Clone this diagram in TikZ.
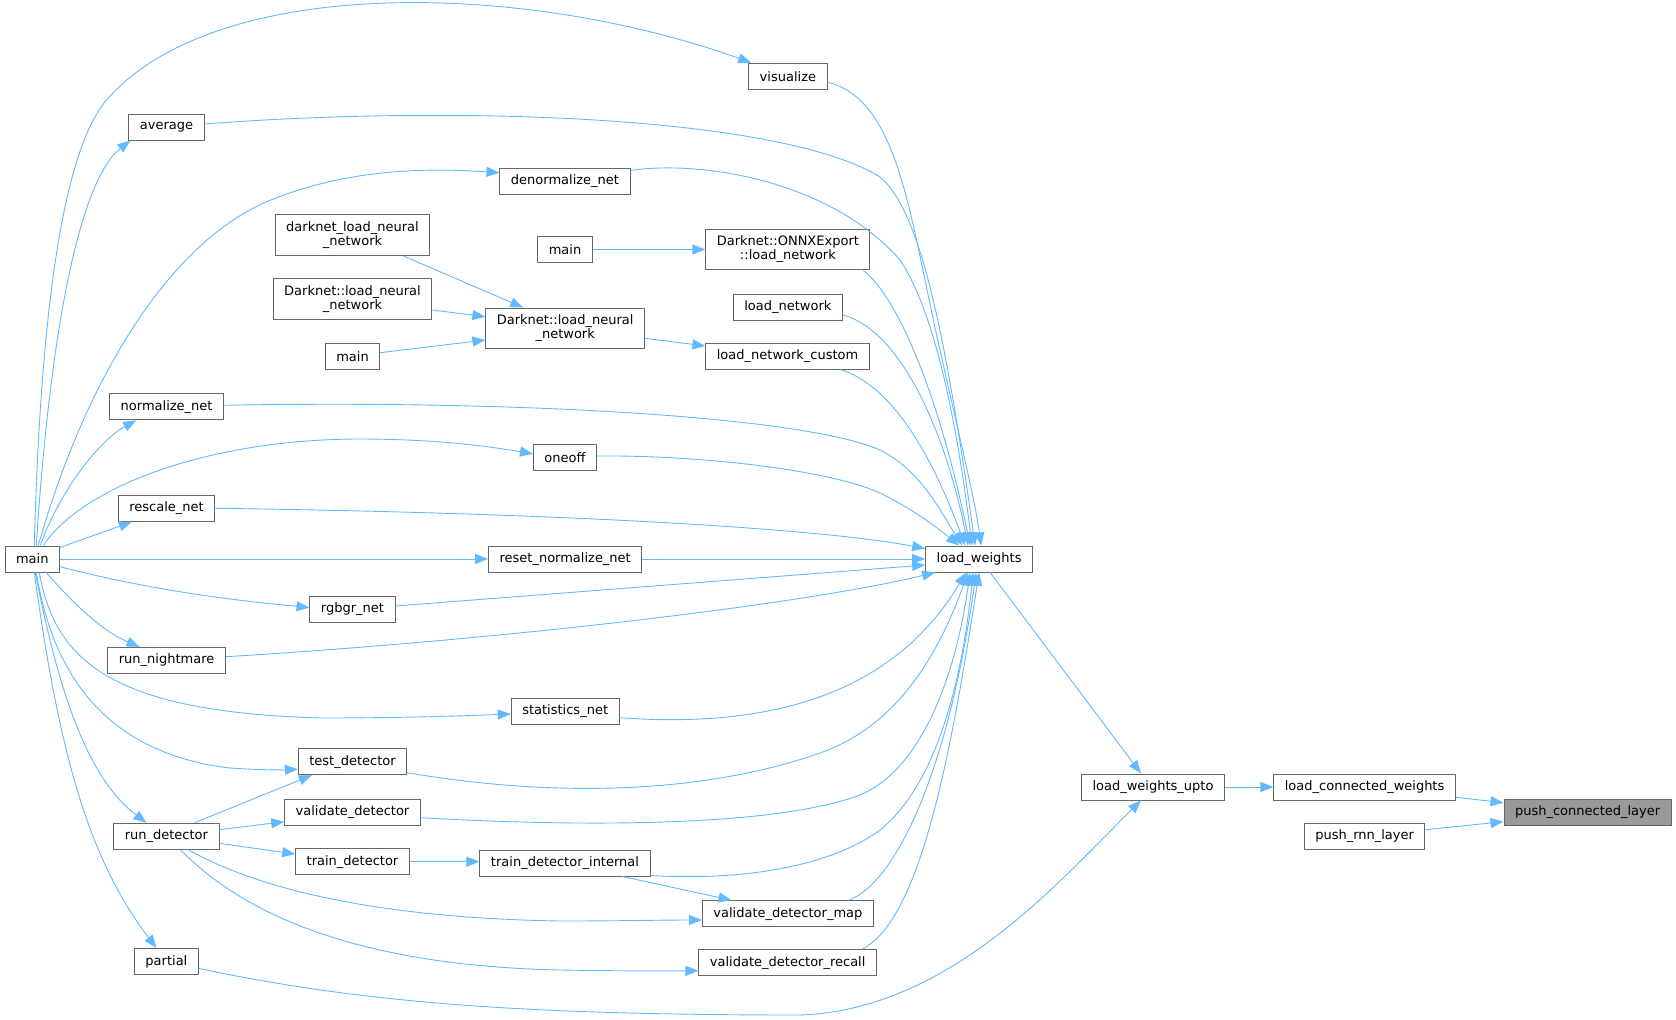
\documentclass[tikz,border=0pt]{standalone}
\usepackage{fontspec}
\setmainfont{DejaVu Sans}
\usepackage{tikz}
\usetikzlibrary{arrows.meta}
\definecolor{edgeblue}{HTML}{63B8FF}
\definecolor{boxgray}{HTML}{666666}
\definecolor{hlgray}{HTML}{999999}

\begin{document}
\begin{tikzpicture}[x=1pt,y=-1pt,
	fn/.style={draw=boxgray,line width=1pt,fill=white,inner xsep=11pt,inner ysep=0pt,minimum height=26pt,font=\fontsize{13}{14}\selectfont},
	fn2/.style={fn,align=center,minimum height=40.5pt},
	edge/.style={draw=edgeblue,line width=0.9pt,-{Triangle[length=13pt,width=10pt]}}]
	\useasboundingbox (0,0) rectangle (1676,1020);
	% callers, left to right
	\node[fn] (visualize) at (787.9,76.2) {visualize};
	\node[fn] (average) at (166.5,127) {average};
	\node[fn] (denorm) at (565,181.5) {denormalize\_net};
	\node[fn2] (dlnn) at (352.5,235.2) {darknet\_load\_neural\\\_network};
	\node[fn] (mainonnx) at (565,249.5) {main};
	\node[fn2] (onnx) at (787.9,249.5) {Darknet::ONNXExport\\::load\_network};
	\node[fn2] (dleft) at (352.5,299) {Darknet::load\_neural\\\_network};
	\node[fn] (loadnet) at (787.9,307) {load\_network};
	\node[fn2] (dlnmid) at (565.2,328.3) {Darknet::load\_neural\\\_network};
	\node[fn] (mainnet) at (352.5,356.2) {main};
	\node[fn] (lnc) at (787.6,356.2) {load\_network\_custom};
	\node[fn] (normalize) at (166.6,406.8) {normalize\_net};
	\node[fn] (oneoff) at (565,457.7) {oneoff};
	\node[fn] (rescale) at (166.6,508.3) {rescale\_net};
	\node[fn] (main) at (32.3,559) {main};
	\node[fn] (reset) at (565.2,559) {reset\_normalize\_net};
	\node[fn] (lw) at (979.1,559) {load\_weights};
	\node[fn] (rgbgr) at (352.5,609.5) {rgbgr\_net};
	\node[fn] (nightmare) at (166.6,660.3) {run\_nightmare};
	\node[fn] (statistics) at (565.2,711) {statistics\_net};
	\node[fn] (testdet) at (352.5,761.7) {test\_detector};
	\node[fn] (upto) at (1153,787) {load\_weights\_upto};
	\node[fn] (lcw) at (1364.6,787) {load\_connected\_weights};
	\node[fn] (vdet) at (352.5,812.2) {validate\_detector};
	\node[fn,fill=hlgray] (pcl) at (1587.6,812.3) {push\_connected\_layer};
	\node[fn] (rundet) at (166.4,836.3) {run\_detector};
	\node[fn] (prnn) at (1364.6,836.5) {push\_rnn\_layer};
	\node[fn] (traindet) at (352.5,861.7) {train\_detector};
	\node[fn] (tdi) at (565,863) {train\_detector\_internal};
	\node[fn] (vdmap) at (787.9,913.7) {validate\_detector\_map};
	\node[fn] (partial) at (166.4,961.5) {partial};
	\node[fn] (vdrecall) at (787.7,962.8) {validate\_detector\_recall};
	% right part
	\draw[edge] ([yshift=-10.3pt]lcw.east) -- ([yshift=9.6pt]pcl.west);
	\draw[edge] ([yshift=6.8pt]prnn.east) -- ([yshift=-9.4pt]pcl.west);
	\draw[edge] (upto.east) -- (lcw.west);
	\draw[edge] ([xshift=11pt]lw.south) -- ([xshift=-12pt]upto.north);
	\draw[edge] ([yshift=-7pt]partial.east) .. controls (350,1000) and (500,1015) .. (800,1015) .. controls (950,1010) and (1060,880) .. ([xshift=-12pt]upto.south);
	% into load_weights from above
	\draw[edge] ([yshift=-6pt]visualize.east) .. controls (900,100) and (910,220) .. (940,350) .. controls (960,440) and (975,500) .. ([xshift=2pt]lw.north);
	\draw[edge] ([yshift=3pt]average.east) .. controls (450,105) and (780,115) .. (880,177) .. controls (920,210) and (945,330) .. ([xshift=-4pt]lw.north);
	\draw[edge] ([yshift=11pt]denorm.east) .. controls (700,160) and (830,180) .. (900,260) .. controls (940,320) and (960,450) .. ([xshift=-7pt]lw.north);
	\draw[edge] ([xshift=-7pt]onnx.south east) .. controls (900,300) and (940,400) .. ([xshift=-9pt]lw.north);
	\draw[edge] ([yshift=-8pt]loadnet.east) .. controls (900,330) and (945,430) .. ([xshift=-11pt]lw.north);
	\draw[edge] ([xshift=-29pt]lnc.south east) .. controls (890,385) and (930,450) .. ([xshift=-14pt]lw.north);
	\draw[edge] ([yshift=1.5pt]normalize.east) .. controls (500,400) and (800,415) .. (880,450) .. controls (920,470) and (940,510) .. ([xshift=-17pt]lw.north);
	\draw[edge] ([yshift=1.7pt]oneoff.east) .. controls (700,455) and (830,470) .. (880,493) .. controls (915,510) and (940,530) .. ([xshift=-20pt]lw.north);
	\draw[edge] (rescale.east) .. controls (500,512) and (800,525) .. ([yshift=-3pt]lw.north west);
	\draw[edge] (reset.east) -- (lw.west);
	\draw[edge] ([yshift=3.5pt]rgbgr.east) -- ([yshift=-6pt]lw.west);
	\draw[edge] ([yshift=3.6pt]nightmare.east) .. controls (500,640) and (800,605) .. ([xshift=10pt]lw.south west);
	% into load_weights from below
	\draw[edge] ([yshift=-6.7pt]statistics.east) .. controls (760,728) and (890,700) .. ([xshift=-13pt]lw.south);
	\draw[edge] ([yshift=-11pt]testdet.east) .. controls (550,797) and (700,795) .. (820,753) .. controls (900,725) and (940,650) .. ([xshift=-11pt]lw.south);
	\draw[edge] ([yshift=-5.5pt]vdet.east) .. controls (600,828) and (780,825) .. (860,795) .. controls (920,770) and (955,680) .. ([xshift=-9pt]lw.south);
	\draw[edge] ([yshift=-12.5pt]tdi.east) .. controls (760,882) and (840,860) .. (880,830) .. controls (930,790) and (960,700) .. ([xshift=-6pt]lw.south);
	\draw[edge] ([xshift=-25pt]vdmap.north east) .. controls (900,880) and (950,760) .. ([xshift=-3pt]lw.south);
	\draw[edge] ([xshift=-15pt]vdrecall.north east) .. controls (920,920) and (950,760) .. (lw.south);
	% network loaders
	\draw[edge] (mainonnx.east) -- (onnx.west);
	\draw[edge] ([yshift=-10pt]dlnmid.east) -- ([yshift=10.2pt]lnc.west);
	\draw[edge] ([xshift=51pt]dlnn.south) -- ([xshift=-42pt]dlnmid.north);
	\draw[edge] ([yshift=-11pt]dleft.east) -- ([yshift=11.6pt]dlnmid.west);
	\draw[edge] ([yshift=3.5pt]mainnet.east) -- ([yshift=-11.7pt]dlnmid.west);
	% main
	\draw[edge] ([xshift=2pt]main.north) .. controls (40,330) and (60,160) .. (104,103) .. controls (210,-25) and (520,-20) .. ([xshift=3pt]visualize.north west);
	\draw[edge] ([xshift=4pt]main.north) .. controls (50,330) and (80,180) .. ([xshift=2pt]average.south west);
	\draw[edge] ([xshift=6pt]main.north) .. controls (85,380) and (170,240) .. (271,200) .. controls (350,168) and (430,168) .. ([yshift=8.8pt]denorm.west);
	\draw[edge] ([xshift=8pt]main.north) .. controls (60,490) and (100,440) .. ([xshift=27pt]normalize.south west);
	\draw[edge] ([xshift=11pt]main.north) .. controls (80,490) and (200,440) .. (357,439) .. controls (430,439) and (480,445) .. ([yshift=4pt]oneoff.west);
	\draw[edge] ([yshift=-2pt]main.north east) -- ([xshift=14pt]rescale.south west);
	\draw[edge] (main.east) -- (reset.west);
	\draw[edge] ([yshift=-7.7pt]main.east) .. controls (150,590) and (230,600) .. ([yshift=2pt]rgbgr.west);
	\draw[edge] ([xshift=14pt]main.south) .. controls (70,600) and (100,630) .. ([xshift=-27pt]nightmare.north);
	\draw[edge] ([xshift=7pt]main.south) .. controls (55,660) and (110,712) .. (321,718) .. controls (400,718) and (460,716) .. ([yshift=-3pt]statistics.west);
	\draw[edge] ([xshift=4pt]main.south) .. controls (55,690) and (120,755) .. (230,768) .. controls (260,770) and (280,770) .. ([yshift=-7.5pt]testdet.west);
	\draw[edge] ([xshift=3pt]main.south) .. controls (60,700) and (90,780) .. ([xshift=-20pt]rundet.north);
	\draw[edge] ([xshift=2pt]main.south) .. controls (60,760) and (90,860) .. ([xshift=-10pt]partial.north);
	% detector
	\draw[edge] ([xshift=28pt]rundet.north) -- ([xshift=14pt]testdet.south west);
	\draw[edge] ([yshift=6.6pt]rundet.east) -- ([yshift=-9.5pt]vdet.west);
	\draw[edge] ([yshift=-7pt]rundet.east) -- ([yshift=7.7pt]traindet.west);
	\draw[edge] ([xshift=22pt]rundet.south) .. controls (260,890) and (380,918) .. (560,921) .. controls (620,921) and (660,920) .. ([yshift=-6.3pt]vdmap.west);
	\draw[edge] ([xshift=14pt]rundet.south) .. controls (230,900) and (330,965) .. (560,970) .. controls (620,971) and (660,971) .. ([yshift=-8pt]vdrecall.west);
	\draw[edge] (traindet.east) -- (traindet.east -| tdi.west);
	\draw[edge] ([xshift=57.5pt]tdi.south) -- ([xshift=29.6pt]vdmap.north west);
\end{tikzpicture}
\end{document}
